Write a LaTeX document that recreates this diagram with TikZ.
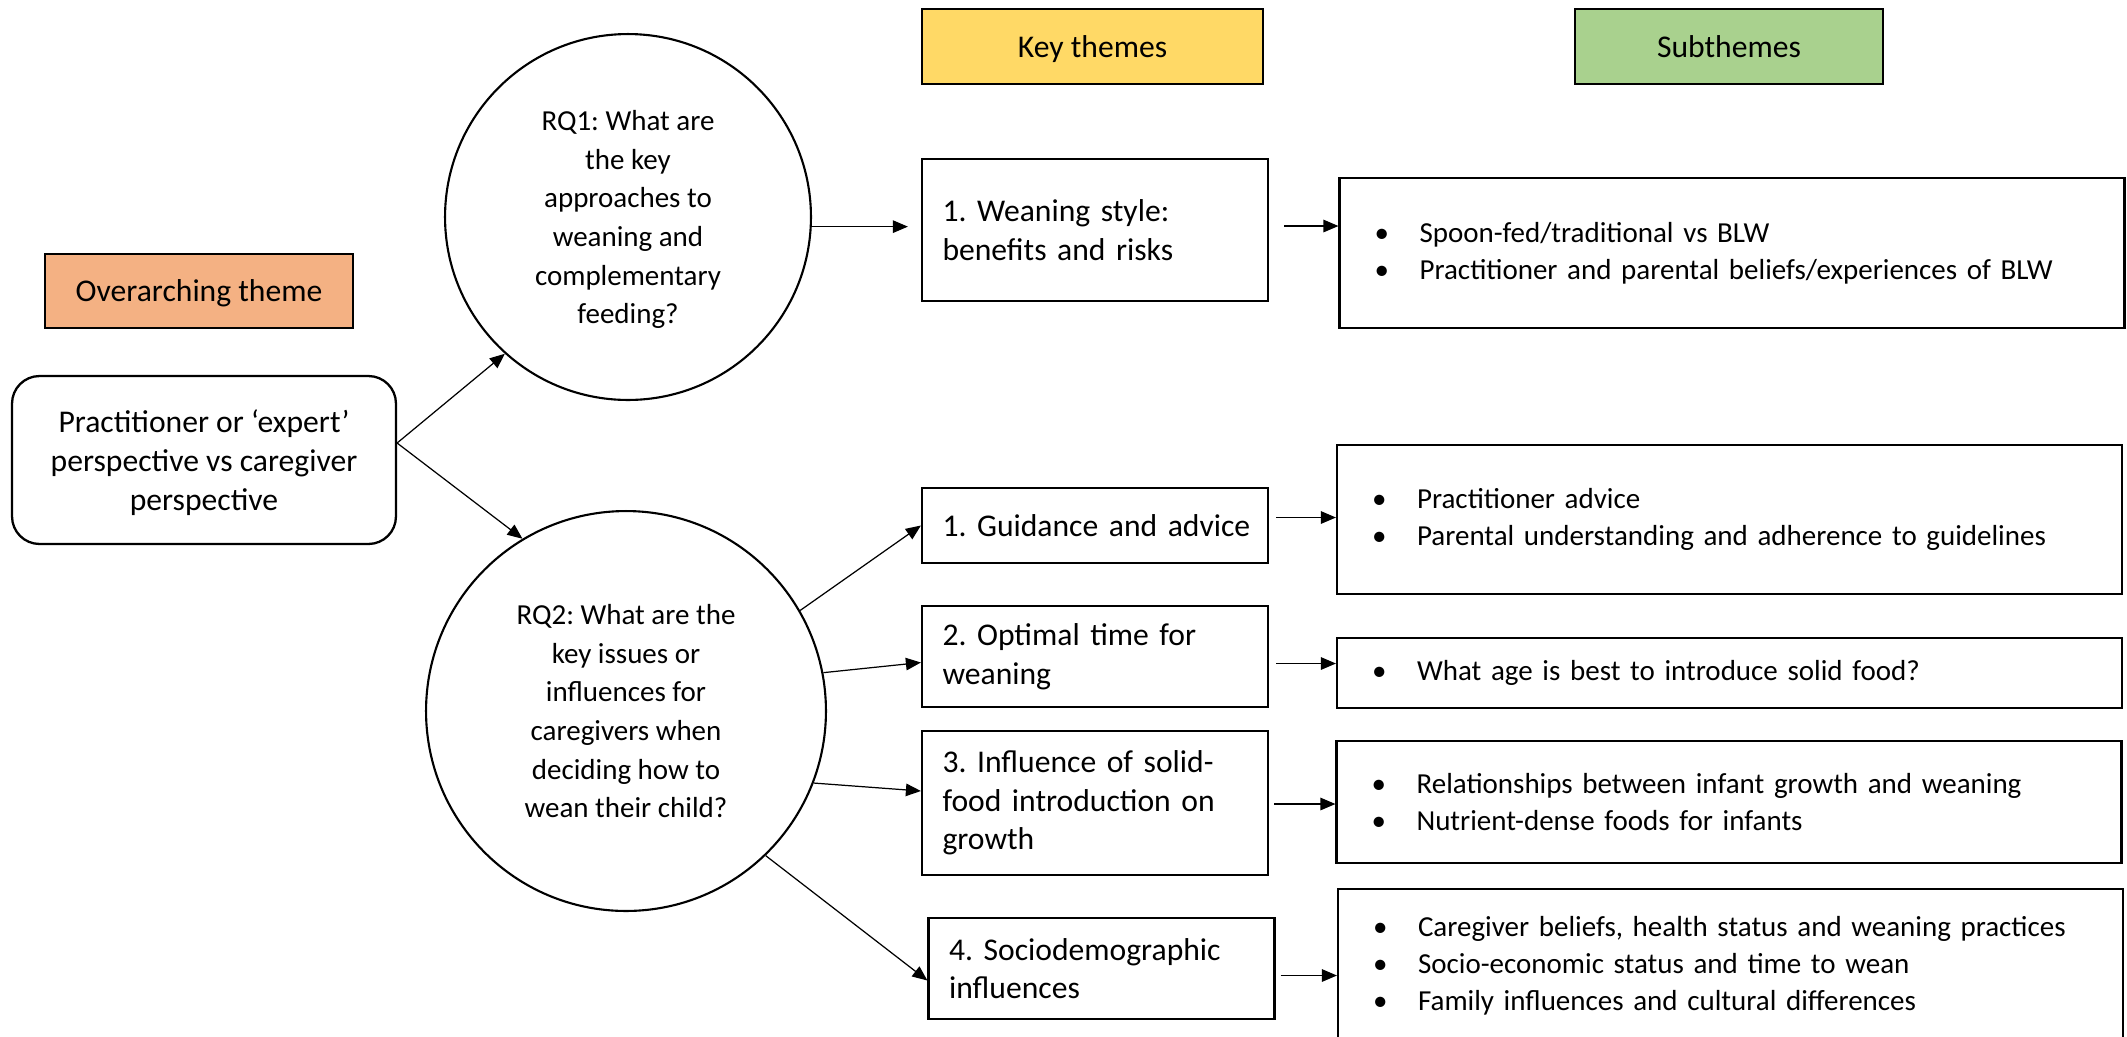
\documentclass[tikz,border=0pt]{standalone}
\usepackage{fontspec}
\setmainfont{Carlito}
\usepackage{xcolor}
\usepackage{tikz}
\usetikzlibrary{arrows.meta}
\definecolor{keyyellow}{HTML}{FFD966}
\definecolor{subgreen}{HTML}{A9D18E}
\definecolor{overorange}{HTML}{F4B183}
\newcommand{\bul}{\makebox[0.9cm][l]{\textbullet}}
\frenchspacing
\hyphenpenalty=10000
\exhyphenpenalty=10000

\begin{document}
\begin{tikzpicture}[x=0.02cm,y=-0.02cm,
  every node/.style={font=\fontsize{18}{22}\selectfont},
  head/.style={draw,line width=1.3pt,minimum height=1.5cm,text depth=0pt},
  theme/.style={draw,line width=1.3pt,text width=6.1cm,inner xsep=0.41cm,align=left},
  subtheme/.style={draw,line width=1.3pt,text width=14.3cm,inner xsep=0.7cm,align=left,
    font=\fontsize{16.5}{21}\selectfont},
  rq/.style={draw,circle,line width=1.2pt,align=center,inner sep=0pt,text depth=0pt,
    font=\fontsize{16.5}{22}\selectfont},
  arr/.style={-{Triangle[length=0.3cm,width=0.25cm]},line width=0.7pt}]
\useasboundingbox (0,0) rectangle (2127,1036);
  \node[head,fill=keyyellow,minimum width=6.82cm] (keyhd) at (1092.5,46.5) {Key themes};
  \node[head,fill=subgreen,minimum width=6.16cm] (subhd) at (1729,46.5) {Subthemes};
  \node[head,fill=overorange,minimum width=6.16cm,minimum height=1.48cm] (overhd) at (199,291) {Overarching theme};
  \node[draw,line width=1.3pt,rounded corners=0.55cm,minimum width=7.68cm,minimum height=3.36cm,align=center,text depth=0pt] (persp) at (204,460)
    {Practitioner or `expert'\\perspective vs caregiver\\perspective};
  \node[rq,minimum size=7.32cm] (rq1) at (628,217)
    {RQ1: What are\\the key\\approaches to\\weaning and\\complementary\\feeding?};
  \node[rq,minimum size=8cm] (rq2) at (626,711)
    {RQ2: What are the\\key issues or\\influences for\\caregivers when\\deciding how to\\wean their child?};
  \node[theme,minimum height=2.84cm] (w1) at (1095,230) {1. Weaning style:\\benefits and risks};
  \node[theme,minimum height=1.5cm] (g1) at (1095,525.5) {\mbox{1. Guidance and advice}};
  \node[theme,minimum height=2.02cm] (g2) at (1095,656.5) {2. Optimal time for\\weaning};
  \node[theme,minimum height=2.88cm] (g3) at (1095,803) {3. Influence of solid-\\food introduction on\\growth};
  \node[theme,minimum height=2.02cm] (g4) at (1101.5,968.5) {4. Sociodemographic\\influences};
  \node[subtheme,minimum height=3cm] (s1) at (1732,253)
    {\bul Spoon-fed/traditional vs BLW\\\bul Practitioner and parental beliefs/experiences of BLW};
  \node[subtheme,minimum height=2.98cm] (sg1) at (1729.5,519.5)
    {\bul Practitioner advice\\\bul Parental understanding and adherence to guidelines};
  \node[subtheme,minimum height=1.4cm] (sg2) at (1729.5,673)
    {\bul What age is best to introduce solid food?};
  \node[subtheme,minimum height=2.44cm] (sg3) at (1729,802)
    {\bul Relationships between infant growth and weaning\\\bul Nutrient-dense foods for infants};
  \node[subtheme,minimum height=3.08cm] (sg4) at (1730.5,966)
    {\bul Caregiver beliefs, health status and weaning practices\\\bul Socio-economic status and time to wean\\\bul Family influences and cultural differences};
  \draw[arr] ([yshift=0.34cm]persp.east) -- (rq1.228);
  \draw[arr] ([yshift=0.34cm]persp.east) -- (rq2.121);
  \draw[arr,shorten >=0.26cm] (rq1.-3) -- (rq1.-3 -| w1.west);
  \draw[arr] (rq2.30) -- (g1.west);
  \draw[arr] (rq2.11) -- ([yshift=-0.12cm]g2.west);
  \draw[arr] (rq2.-21) -- ([yshift=0.24cm]g3.west);
  \draw[arr] (rq2.-46) -- ([yshift=-0.24cm]g4.west);
  \draw[arr,shorten <=0.3cm] ([yshift=0.08cm]w1.east) -- ([yshift=0.08cm]s1.west |- w1.east);
  \draw[arr,shorten <=0.14cm] ([yshift=0.16cm]g1.east) -- ([yshift=0.16cm]sg1.west |- g1.east);
  \draw[arr,shorten <=0.14cm] ([yshift=-0.14cm]g2.east) -- ([yshift=-0.14cm]sg2.west |- g2.east);
  \draw[arr,shorten <=0.1cm] ([yshift=-0.02cm]g3.east) -- ([yshift=-0.02cm]sg3.west |- g3.east);
  \draw[arr,shorten <=0.1cm] ([yshift=-0.14cm]g4.east) -- ([yshift=-0.14cm]sg4.west |- g4.east);
\end{tikzpicture}
\end{document}
